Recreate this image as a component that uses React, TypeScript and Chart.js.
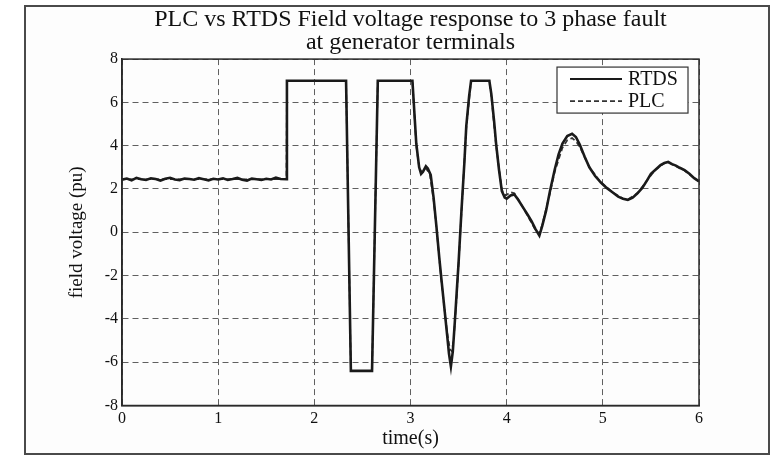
import React, { useEffect, useRef } from "react";
import { Chart, registerables } from "chart.js";

Chart.register(...registerables);

const titleLines = ["PLC vs RTDS Field voltage response to 3 phase fault", "at generator terminals"];
const xTitle = "time(s)";
const yTitle = "field voltage (pu)";
const seriesNames = ["RTDS", "PLC"];

const rtdsTime = [
  0, 0.05, 0.1, 0.15, 0.2, 0.25, 0.3, 0.35, 0.4, 0.45, 0.5, 0.55, 0.6, 0.65, 0.7, 0.75, 0.8, 0.85,
  0.9, 0.95, 1.0, 1.05, 1.1, 1.15, 1.2, 1.25, 1.3, 1.35, 1.4, 1.45, 1.5, 1.55, 1.6, 1.65, 1.71,
  1.715, 2.33, 2.38, 2.6, 2.66, 3.02, 3.06, 3.09, 3.11, 3.13, 3.16, 3.18, 3.21, 3.24, 3.27, 3.3,
  3.32, 3.35, 3.38, 3.4, 3.42, 3.44, 3.46, 3.48, 3.5, 3.53, 3.56, 3.58, 3.61, 3.63, 3.82, 3.84,
  3.87, 3.89, 3.92, 3.95, 3.98, 4.0, 4.04, 4.08, 4.12, 4.17, 4.22, 4.26, 4.3, 4.34, 4.37, 4.41,
  4.45, 4.5, 4.54, 4.58, 4.63, 4.68, 4.72, 4.76, 4.81, 4.86, 4.92, 4.98, 5.04, 5.1, 5.16, 5.21,
  5.26, 5.31, 5.36, 5.41, 5.46, 5.5, 5.55, 5.6, 5.64, 5.68, 5.72, 5.76, 5.8, 5.85, 5.9, 5.95, 6.0,
];
const rtdsVolt = [
  2.43, 2.48, 2.4, 2.51, 2.45, 2.42, 2.49, 2.46, 2.39, 2.47, 2.52, 2.44, 2.41, 2.48, 2.46, 2.43,
  2.5, 2.45, 2.4, 2.47, 2.44, 2.49, 2.42, 2.46, 2.51, 2.43, 2.39, 2.48, 2.45, 2.42, 2.47, 2.44,
  2.52, 2.46, 2.45,
  7.0, 7.0, -6.4, -6.4, 7.0, 7.0, 4.1, 3.0, 2.7, 2.8, 3.05, 2.95, 2.65, 1.6, 0.25, -1.2,
  -2.1, -3.4, -4.7, -5.6, -6.2, -5.5, -4.2, -2.8, -1.4, 1.0, 3.2, 4.9, 6.3, 7.0, 7.0, 6.4,
  5.1, 4.1, 2.9, 1.9, 1.6, 1.55, 1.7, 1.75, 1.5, 1.15, 0.8, 0.5, 0.15, -0.15, 0.3, 1.0,
  1.9, 2.9, 3.6, 4.1, 4.45, 4.55, 4.4, 4.05, 3.5, 3.0, 2.6, 2.3, 2.05, 1.85, 1.65, 1.55,
  1.5, 1.6, 1.8, 2.05, 2.4, 2.7, 2.9, 3.1, 3.2, 3.25, 3.15, 3.08, 2.98, 2.87, 2.7, 2.5, 2.35,
];

const plcTime = [
  0, 1.71, 1.715, 2.33, 2.38, 2.6, 2.66, 3.02, 3.06, 3.09, 3.12, 3.16, 3.2, 3.24, 3.27, 3.32,
  3.38, 3.41, 3.43, 3.45, 3.48, 3.53, 3.58, 3.63, 3.82, 3.84, 3.89, 3.95, 3.99, 4.04, 4.08,
  4.13, 4.22, 4.3, 4.34, 4.37, 4.45, 4.5, 4.58, 4.63, 4.68, 4.72, 4.76, 4.86, 4.98, 5.1, 5.21,
  5.26, 5.36, 5.46, 5.55, 5.64, 5.68, 5.76, 5.85, 5.95, 6.0,
];
const plcVolt = [
  2.45, 2.45, 7.0, 7.0, -6.4, -6.4, 7.0, 7.0, 4.0, 3.0, 2.75, 2.95, 2.7, 1.5, 0.2, -2.2,
  -4.6, -5.4, -5.5, -4.9, -3.0, 0.9, 4.8, 7.0, 7.0, 6.3, 4.0, 1.95, 1.7, 1.85, 1.8,
  1.45, 0.75, 0.1, -0.05, 0.35, 1.8, 2.8, 3.9, 4.25, 4.35, 4.2, 3.95, 3.0, 2.3, 1.85, 1.55,
  1.52, 1.8, 2.4, 2.9, 3.2, 3.22, 3.05, 2.85, 2.5, 2.35,
];

const xMin = 0;
const xMax = 6;
const xStep = 1;
const yMin = -8;
const yMax = 8;
const yStep = 2;

const FONT = "'Liberation Serif', 'Times New Roman', serif";

const boxPlugin = {
  id: "plotBox",
  afterDatasetsDraw(chart: any) {
    const { ctx, chartArea } = chart;
    ctx.save();
    ctx.strokeStyle = "#2a2a2a";
    ctx.lineWidth = 1.5;
    ctx.setLineDash([]);
    ctx.strokeRect(chartArea.left, chartArea.top, chartArea.right - chartArea.left, chartArea.bottom - chartArea.top);
    ctx.restore();
  },
};

const legendPlugin = {
  id: "boxLegend",
  afterDraw(chart: any) {
    const { ctx, chartArea } = chart;
    const w = 131;
    const h = 46;
    const left = chartArea.right - 11 - w;
    const top = chartArea.top + 8;
    ctx.save();
    ctx.fillStyle = "#ffffff";
    ctx.fillRect(left, top, w, h);
    ctx.strokeStyle = "#333";
    ctx.lineWidth = 1.2;
    ctx.setLineDash([]);
    ctx.strokeRect(left, top, w, h);
    chart.data.datasets.forEach((ds: any, i: number) => {
      const y = top + 12 + i * 22;
      ctx.beginPath();
      ctx.strokeStyle = ds.borderColor;
      ctx.lineWidth = Math.min(ds.borderWidth, 2);
      ctx.setLineDash(ds.borderDash || []);
      ctx.moveTo(left + 13, y);
      ctx.lineTo(left + 65, y);
      ctx.stroke();
      ctx.setLineDash([]);
      ctx.fillStyle = "#111";
      ctx.font = `20px ${FONT}`;
      ctx.textAlign = "left";
      ctx.textBaseline = "middle";
      ctx.fillText(ds.label, left + 71, y + 1);
    });
    ctx.restore();
  },
};

export default function App() {
  const ref = useRef<HTMLCanvasElement | null>(null);

  useEffect(() => {
    if (!ref.current) return;
    const chart = new Chart(ref.current, {
      type: "line",
      data: {
        datasets: [
          {
            label: seriesNames[0],
            data: rtdsTime.map((t, i) => ({ x: t, y: rtdsVolt[i] })),
            borderColor: "#1a1a1a",
            borderWidth: 2.6,
            pointRadius: 0,
            tension: 0,
            fill: false,
          },
          {
            label: seriesNames[1],
            data: plcTime.map((t, i) => ({ x: t, y: plcVolt[i] })),
            borderColor: "#333333",
            borderWidth: 1.7,
            borderDash: [5, 3],
            pointRadius: 0,
            tension: 0,
            fill: false,
          },
        ],
      },
      options: {
        animation: false,
        responsive: false,
        devicePixelRatio: 1,
        layout: { padding: { left: 0, right: 76, top: 0, bottom: 0 } },
        plugins: {
          legend: { display: false },
          tooltip: { enabled: false },
          title: {
            display: true,
            fullSize: false,
            text: titleLines,
            color: "#111",
            font: { family: FONT, size: 24, weight: "normal", lineHeight: 0.96 },
            padding: { top: 8, bottom: 5 },
          },
        },
        scales: {
          x: {
            type: "linear",
            min: xMin,
            max: xMax,
            afterFit: (s: any) => {
              s.height = 51.5;
            },
            ticks: {
              stepSize: xStep,
              color: "#111",
              font: { family: FONT, size: 16 },
              padding: 4,
              maxRotation: 0,
            },
            grid: { color: "#606060", lineWidth: 1, drawTicks: false },
            border: { display: true, color: "#2a2a2a", width: 1.5, dash: [6, 4] },
            title: {
              display: true,
              text: xTitle,
              color: "#111",
              font: { family: FONT, size: 20 },
              padding: { top: 0, bottom: 6 },
            },
          },
          y: {
            type: "linear",
            min: yMin,
            max: yMax,
            afterFit: (s: any) => {
              s.width = 122;
            },
            ticks: {
              stepSize: yStep,
              color: "#111",
              font: { family: FONT, size: 16 },
              padding: 4,
            },
            grid: { color: "#606060", lineWidth: 1, drawTicks: false },
            border: { display: true, color: "#2a2a2a", width: 1.5, dash: [6, 4] },
            title: {
              display: true,
              text: yTitle,
              color: "#111",
              font: { family: FONT, size: 19 },
              padding: { top: 66, bottom: 0 },
            },
          },
        },
      },
      plugins: [boxPlugin, legendPlugin],
    });
    return () => chart.destroy();
  }, []);

  return (
    <div style={{ position: "fixed", left: 0, top: 0, width: 775, height: 457, background: "#ffffff" }}>
      <div
        style={{
          position: "absolute",
          left: 24,
          top: 5,
          width: 746,
          height: 450,
          border: "2px solid #4a4a4a",
          boxSizing: "border-box",
          background: "#fdfdfd",
        }}
      />
      <canvas
        ref={ref}
        width={775}
        height={457}
        style={{ position: "absolute", left: 0, top: 0, width: 775, height: 457 }}
      />
    </div>
  );
}
